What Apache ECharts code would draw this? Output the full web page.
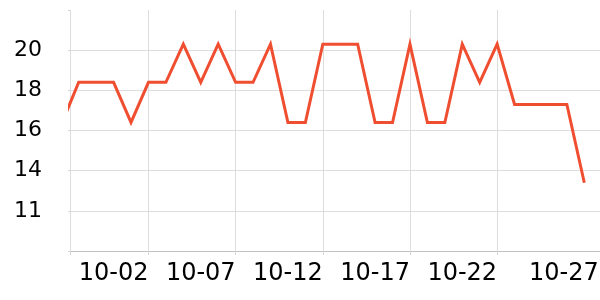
<!DOCTYPE html>
<html><head><meta charset="utf-8">
<script src="https://cdn.jsdelivr.net/npm/echarts@6/dist/echarts.min.js"></script>
<style>html,body{margin:0;padding:0;background:#fff}#c{width:600px;height:300px}</style>
</head><body><div id="c"></div>
<script>
// Data
const dates = ['2023-09-29','2023-09-30','2023-10-01','2023-10-02','2023-10-03','2023-10-04','2023-10-05',
  '2023-10-06','2023-10-07','2023-10-08','2023-10-09','2023-10-10','2023-10-11','2023-10-12','2023-10-13',
  '2023-10-14','2023-10-15','2023-10-16','2023-10-17','2023-10-18','2023-10-19','2023-10-20','2023-10-21',
  '2023-10-22','2023-10-23','2023-10-24','2023-10-25','2023-10-26','2023-10-27','2023-10-28','2023-10-29'];
const values = [16.3, 18.4, 18.4, 18.4, 16.4, 18.4, 18.4, 20.3, 18.4, 20.3, 18.4, 18.4, 20.3, 16.4, 16.4,
  20.3, 20.3, 20.3, 16.4, 16.4, 20.3, 16.4, 16.4, 20.3, 18.4, 20.3, 17.3, 17.3, 17.3, 17.3, 13.4];
const xRange = ['2023-09-29 12:00', '2023-10-29 21:36'];
const xTickDates = ['2023-10-04','2023-10-09','2023-10-14','2023-10-19','2023-10-24'];
const xLabelDates = ['2023-10-02','2023-10-07','2023-10-12','2023-10-17','2023-10-22','2023-10-27'];
const yTickValues = [12, 14, 16, 18, 20];
const yTickLabels = ['11', '14', '16', '18', '20'];

function t(s) {
  const p = s.split(' ');
  return new Date(p[0] + 'T' + (p[1] || '00:00') + ':00').getTime();
}
function md(ts) {
  const d = new Date(ts);
  return String(d.getMonth() + 1).padStart(2, '0') + '-' + String(d.getDate()).padStart(2, '0');
}
const xMin = t(xRange[0]), xMax = t(xRange[1]);
const lastLabel = t(xLabelDates[xLabelDates.length - 1]);

const chart = echarts.init(document.getElementById('c'));
chart.setOption({
  animation: false,
  grid: { left: 70, right: 0, top: 10, bottom: 49, outerBoundsMode: 'none' },
  xAxis: {
    type: 'value', min: xMin, max: xMax,
    axisLine: { show: true, onZero: false, lineStyle: { color: '#c0c0c0', width: 1 } },
    axisTick: { show: true, length: 4, customValues: [xMin].concat(xTickDates.map(t)), lineStyle: { color: '#d6d6d6' } },
    splitLine: { show: true, lineStyle: { color: '#dddddd', width: 1 } },
    axisLabel: {
      customValues: xLabelDates.map(t), margin: 11,
      fontFamily: 'DejaVu Sans', fontSize: 24, color: '#000',
      formatter: v => (v === lastLabel ? '{last|' + md(v) + '}' : md(v)),
      rich: { last: { fontFamily: 'DejaVu Sans', fontSize: 24, color: '#000', padding: [0, 0, 0, 29] } }
    }
  },
  yAxis: {
    type: 'value', min: 10, max: 22, interval: 2,
    axisLine: { show: false },
    axisTick: { show: true, length: 2, lineStyle: { color: '#d6d6d6' } },
    splitLine: { show: true, showMaxLine: false, lineStyle: { color: '#dddddd', width: 1 } },
    axisLabel: {
      margin: 28, fontFamily: 'DejaVu Sans', fontSize: 22, color: '#000',
      formatter: v => { const i = yTickValues.indexOf(v); return i >= 0 ? yTickLabels[i] : ''; }
    }
  },
  series: [{
    type: 'line', showSymbol: false, symbol: 'none', clip: true,
    data: dates.map((d, i) => [t(d), values[i]]),
    lineStyle: { color: '#f04e30', width: 3, join: 'miter' }
  }]
});
</script></body></html>
